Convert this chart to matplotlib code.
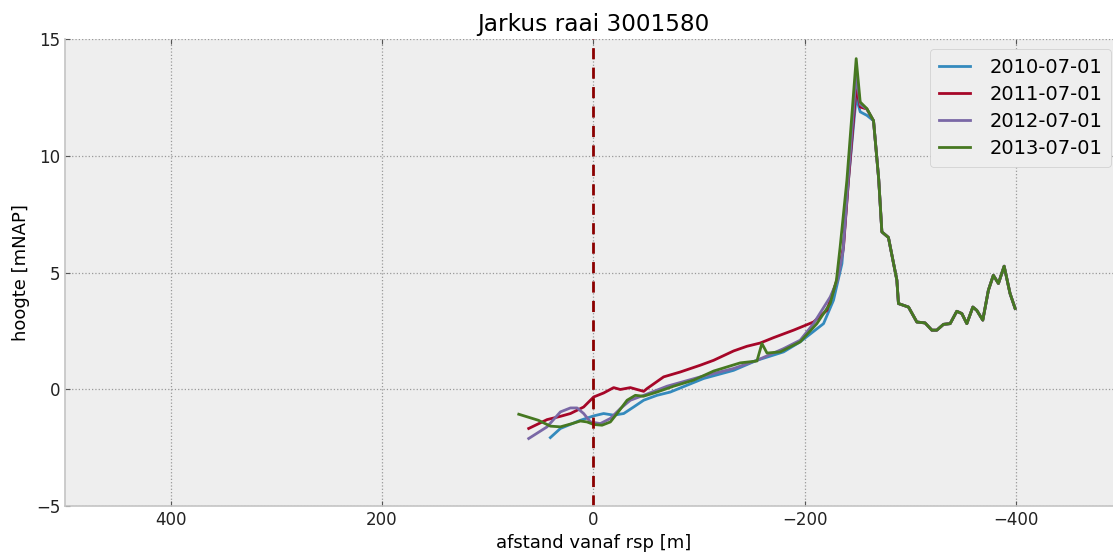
import numpy as np
import matplotlib
matplotlib.use('Agg')
import matplotlib.pyplot as plt

plt.style.use('bmh')

# profile data: afstand tot rsp [m] en hoogte [mNAP]
tail_x = [-258.8, -265.1, -270.0, -273.0, -279.2, -287.2, -288.7, -298.2, -306.1, -313.9,
          -320.3, -325.0, -331.3, -337.6, -343.9, -348.7, -353.4, -359.1, -362.8, -368.5,
          -373.8, -378.5, -383.3, -388.7, -394.3, -399.1]
tail_z = [12.0, 11.5, 9.0, 6.74, 6.5, 4.67, 3.67, 3.52, 2.88, 2.84,
          2.53, 2.53, 2.78, 2.81, 3.34, 3.24, 2.81, 3.52, 3.38, 2.96,
          4.24, 4.88, 4.53, 5.27, 4.10, 3.46]

x_2010 = [40.7, 31.2, 12.3, -0.3, -9.7, -19.2, -28.7, -38.1, -47.6, -60.2, -72.8, -104.3,
          -132.7, -154.8, -180.0, -195.7, -217.8, -227.2, -235.2, -241.4, -248.7, -252.5] + tail_x
z_2010 = [-2.07, -1.68, -1.33, -1.14, -1.04, -1.11, -1.04, -0.76, -0.47, -0.26, -0.12, 0.46,
          0.81, 1.24, 1.60, 2.03, 2.81, 3.81, 5.38, 8.95, 12.52, 11.88] + [11.73] + tail_z[1:]

x_2011 = [61.2, 43.8, 31.2, 21.7, 9.2, -0.3, -9.7, -19.2, -25.5, -35.0, -47.6, -50.8, -66.5,
          -82.3, -101.2, -113.8, -132.7, -145.3, -157.9, -170.5, -189.4, -208.3, -221.0,
          -230.4, -236.7, -241.4, -248.7, -252.5] + tail_x
z_2011 = [-1.68, -1.30, -1.16, -1.04, -0.76, -0.33, -0.16, 0.07, -0.01, 0.07, -0.09, 0.03, 0.53,
          0.74, 1.03, 1.24, 1.64, 1.84, 1.98, 2.21, 2.53, 2.88, 3.38,
          4.67, 6.09, 8.95, 12.93, 12.09] + tail_z

x_2012 = [61.2, 43.8, 31.2, 21.7, 15.4, 9.2, 2.8, -6.6, -16.1, -25.5, -35.0, -47.6, -69.7,
          -101.2, -132.7, -154.8, -180.0, -195.7, -208.3, -224.1, -231.0, -236.4, -241.1,
          -248.7, -252.5] + tail_x
z_2012 = [-2.11, -1.61, -0.97, -0.80, -0.80, -1.04, -1.40, -1.47, -1.25, -0.83, -0.47, -0.26, 0.13,
          0.53, 0.89, 1.24, 1.74, 2.10, 2.81, 3.95, 4.67, 5.95, 8.95,
          13.45, 12.2] + tail_z

x_2013 = [70.6, 52.0, 40.7, 31.2, 20.1, 12.3, 6.0, -0.3, -8.2, -16.1, -22.4, -31.9, -39.7,
          -47.3, -60.2, -75.9, -94.8, -113.8, -139.0, -154.8, -159.5, -164.3, -176.8, -195.7,
          -211.5, -224.1, -230.0, -233.5, -239.9, -248.7, -252.5] + tail_x
z_2013 = [-1.07, -1.33, -1.58, -1.61, -1.47, -1.36, -1.40, -1.51, -1.54, -1.40, -1.04, -0.47, -0.26,
          -0.30, -0.12, 0.13, 0.39, 0.78, 1.13, 1.21, 1.96, 1.55, 1.60, 2.03,
          2.81, 3.67, 4.67, 6.09, 8.95, 14.16, 12.30] + [12.02] + tail_z[1:]

jaren = ['2010-07-01', '2011-07-01', '2012-07-01', '2013-07-01']
kleuren = ['#348ABD', '#A60628', '#7A68A6', '#467821']

fig = plt.figure(figsize=(11.13, 5.52), dpi=100)
ax = fig.add_axes([65/1113, 46/552, (1121.75-65)/1113, 467/552])

for xs, zs, label, c in zip([x_2010, x_2011, x_2012, x_2013],
                            [z_2010, z_2011, z_2012, z_2013], jaren, kleuren):
    ax.plot(xs, zs, color=c, lw=2, label=label)

ax.axvline(0, color='#8B0000', ls='--', lw=2, dashes=(4, 3))

ax.set_xlim(500, -500)
ax.set_ylim(-5, 15)
ax.set_xticks([400, 200, 0, -200, -400])
ax.set_yticks([-5, 0, 5, 10, 15])
ax.grid(True, ls=':', color='#999999', lw=0.9)
ax.spines['top'].set_visible(False)
for s in ['left', 'bottom']:
    ax.spines[s].set_color('#c4c4c4')
    ax.spines[s].set_linewidth(1.2)
ax.tick_params(direction='in', top=True, right=True, labelsize=12, colors='#555555',
               labelcolor='#222222')
ax.set_facecolor('#eeeeee')
ax.set_xlabel('afstand vanaf rsp [m]', fontsize=13, labelpad=4)
ax.set_ylabel('hoogte [mNAP]', fontsize=13)
ax.set_title('Jarkus raai 3001580', fontsize=16.7, pad=6)

ax.legend(loc='upper right', bbox_to_anchor=(1111/1113, 1 - 49/552),
          bbox_transform=fig.transFigure, borderaxespad=0, fontsize=14,
          facecolor='#eeeeee', edgecolor='#cccccc', framealpha=1,
          handlelength=1.6, handletextpad=1.0, labelspacing=0.42, borderpad=0.45)

fig.savefig('out.png', dpi=100)
